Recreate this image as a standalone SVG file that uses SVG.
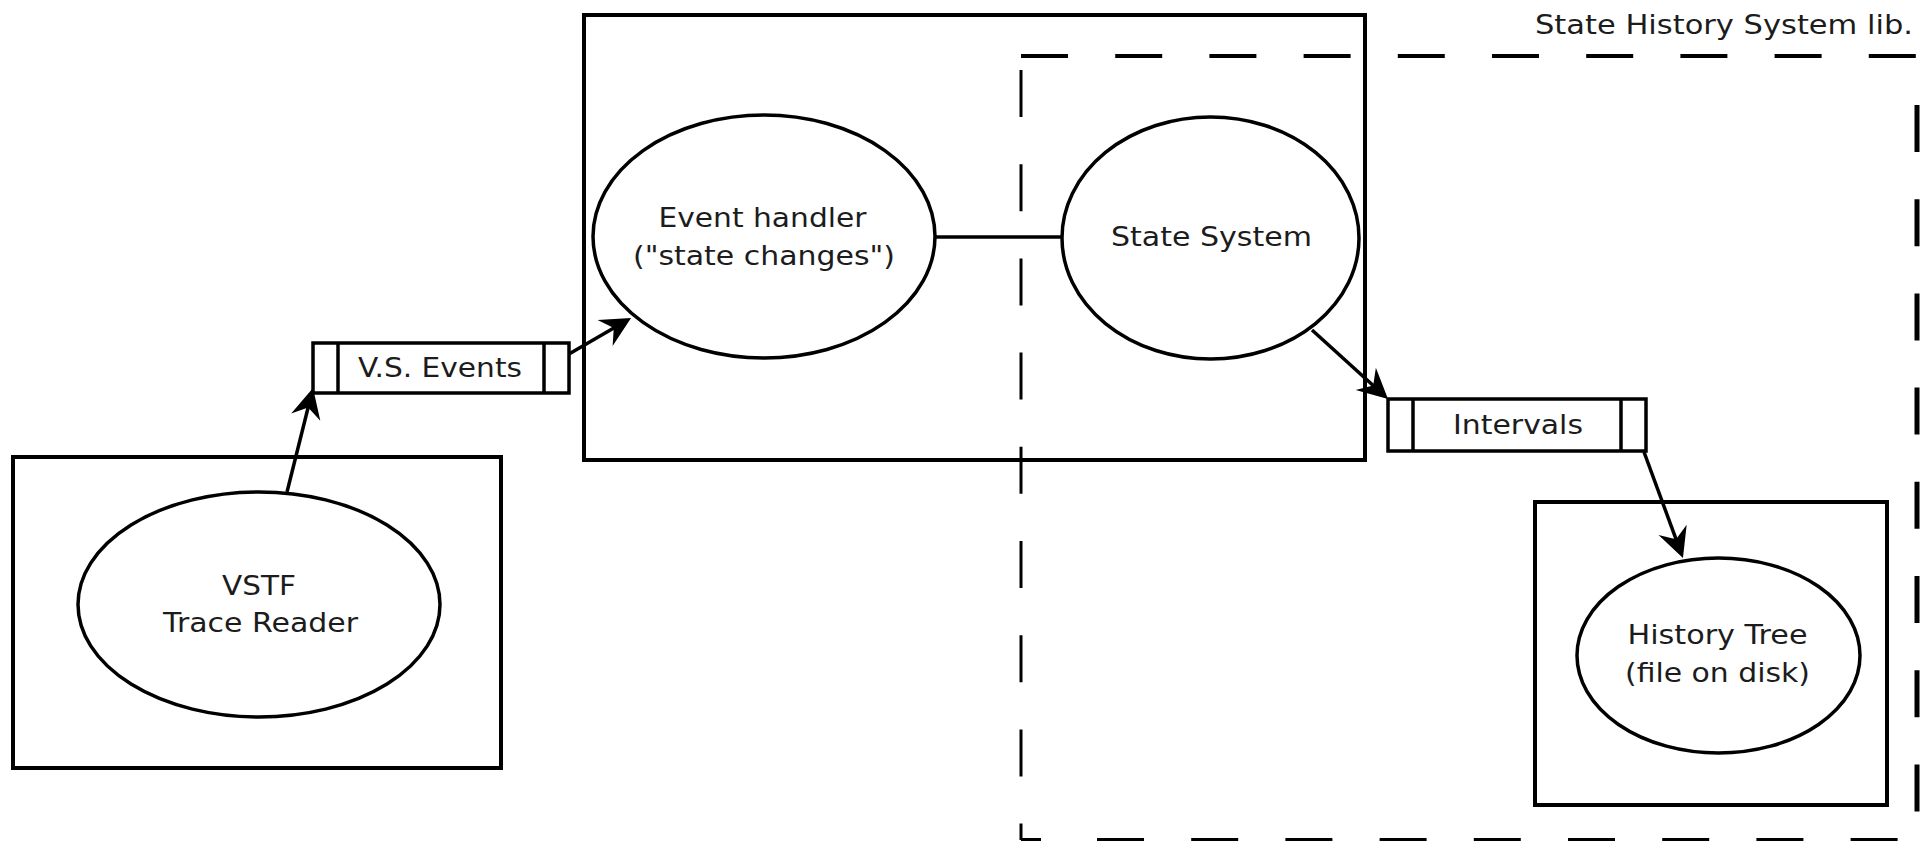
<svg xmlns="http://www.w3.org/2000/svg" width="1927" height="841" viewBox="0 0 1927 841">
  <defs>
    <style>
      .box { fill: none; stroke: #000; stroke-width: 4; }
      .oval { fill: #fff; stroke: #000; stroke-width: 3.5; }
      .queue { fill: #fff; stroke: #000; stroke-width: 3.5; }
      .edge { fill: none; stroke: #000; stroke-width: 3.5; }
      .bound { fill: none; stroke: #000; stroke-dasharray: 47 47.2; }
      .label { font-family: "DejaVu Sans", "Liberation Sans", sans-serif; font-size: 26px; fill: #1c1c1c; text-anchor: middle; }
    </style>
    <marker id="arrow" markerUnits="userSpaceOnUse" refX="-10" refY="0" markerWidth="40" markerHeight="40" orient="auto" overflow="visible">
      <path d="M0,0 L-30,-15 L-20,0 L-30,15 Z" fill="#000"/>
    </marker>
  </defs>

  <rect width="1927" height="841" fill="#fff"/>

  <!-- library boundary (dashed) -->
  <g id="library-boundary">
    <line class="bound" x1="1021" y1="56" x2="1917" y2="56" stroke-width="4"/>
    <line class="bound" x1="1021" y1="70" x2="1021" y2="840" stroke-width="3" stroke-dasharray="47 47.4"/>
    <line class="bound" x1="1917" y1="105" x2="1917" y2="840" stroke-width="5"/>
    <line x1="1021" y1="840" x2="1041" y2="840" stroke="#000" stroke-width="4"/>
    <line class="bound" x1="1097" y1="840" x2="1917" y2="840" stroke-width="4" stroke-dasharray="47 47.6"/>
    <text class="label" x="1913" y="34" textLength="378" lengthAdjust="spacingAndGlyphs" style="text-anchor:end">State History System lib.</text>
  </g>

  <!-- trace reader -->
  <g id="trace-reader">
    <rect class="box" x="13" y="457" width="488" height="311"/>
    <ellipse class="oval" cx="259" cy="604.5" rx="181" ry="112.5"/>
    <text class="label" x="259" y="595" textLength="74" lengthAdjust="spacingAndGlyphs">VSTF</text>
    <text class="label" x="260.5" y="632" textLength="195" lengthAdjust="spacingAndGlyphs">Trace Reader</text>
  </g>

  <!-- event queue -->
  <g id="vs-events">
    <rect class="queue" x="313" y="343" width="256" height="50"/>
    <line class="queue" x1="338" y1="343" x2="338" y2="393"/>
    <line class="queue" x1="544" y1="343" x2="544" y2="393"/>
    <text class="label" x="440" y="377" textLength="164" lengthAdjust="spacingAndGlyphs">V.S. Events</text>
  </g>

  <!-- event handling / state system container -->
  <g id="processing">
    <rect class="box" x="584" y="15" width="781" height="445"/>
  </g>

  <g id="event-handler">
    <ellipse class="oval" cx="764" cy="236.5" rx="171" ry="121.5"/>
    <text class="label" x="762.5" y="227" textLength="208" lengthAdjust="spacingAndGlyphs">Event handler</text>
    <text class="label" x="764" y="265" textLength="262" lengthAdjust="spacingAndGlyphs">("state changes")</text>
  </g>

  <g id="state-system">
    <ellipse class="oval" cx="1210.5" cy="238" rx="148.5" ry="121"/>
    <text class="label" x="1211.5" y="246" textLength="201" lengthAdjust="spacingAndGlyphs">State System</text>
  </g>

  <!-- interval queue -->
  <g id="intervals">
    <rect class="queue" x="1388" y="399" width="258" height="52"/>
    <line class="queue" x1="1413" y1="399" x2="1413" y2="451"/>
    <line class="queue" x1="1621" y1="399" x2="1621" y2="451"/>
    <text class="label" x="1518" y="434" textLength="130" lengthAdjust="spacingAndGlyphs">Intervals</text>
  </g>

  <!-- on-disk storage -->
  <g id="history-tree">
    <rect class="box" x="1535" y="502" width="352" height="303"/>
    <ellipse class="oval" cx="1718.5" cy="655.5" rx="141.5" ry="97.5"/>
    <text class="label" x="1717.5" y="644" textLength="180" lengthAdjust="spacingAndGlyphs">History Tree</text>
    <text class="label" x="1717.5" y="682" textLength="185" lengthAdjust="spacingAndGlyphs">(file on disk)</text>
  </g>

  <!-- connectors -->
  <g id="connectors">
    <line class="edge" x1="287" y1="492" x2="310.6" y2="397.7" marker-end="url(#arrow)"/>
    <line class="edge" x1="569" y1="354" x2="622.4" y2="323" marker-end="url(#arrow)"/>
    <line class="edge" x1="935" y1="237" x2="1062" y2="237"/>
    <line class="edge" x1="1312" y1="330" x2="1380.6" y2="392.3" marker-end="url(#arrow)"/>
    <line class="edge" x1="1644" y1="452" x2="1679.5" y2="548.6" marker-end="url(#arrow)"/>
  </g>
</svg>
